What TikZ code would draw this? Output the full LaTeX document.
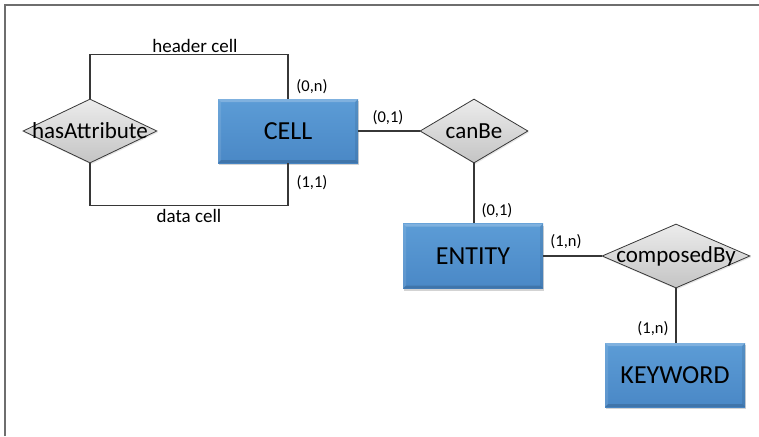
\documentclass[tikz,border=0pt]{standalone}
\usepackage{fontspec}
\setmainfont{Carlito}
\usetikzlibrary{shapes.geometric,shadows}

\definecolor{boxtop}{RGB}{92,156,214}
\definecolor{boxbot}{RGB}{74,136,198}
\definecolor{reltop}{RGB}{236,236,236}
\definecolor{relbot}{RGB}{196,196,196}
\definecolor{linecol}{RGB}{55,55,55}
\definecolor{framecol}{RGB}{110,110,110}

\tikzset{
  x=1pt, y=1pt,
  entitybox/.style={rectangle, minimum width=140pt, minimum height=64pt,
    inner sep=0pt, top color=boxtop, bottom color=boxbot, draw=none,
    drop shadow={opacity=0.35, shadow xshift=1pt, shadow yshift=-2pt},
    font=\fontsize{26}{26}\selectfont,
    path picture={
      \fill[white,opacity=0.22] (path picture bounding box.north west) -- (path picture bounding box.north east)
        -- ([xshift=-3pt,yshift=-3pt]path picture bounding box.north east)
        -- ([xshift=3pt,yshift=-3pt]path picture bounding box.north west) -- cycle;
      \fill[white,opacity=0.10] (path picture bounding box.north west) -- (path picture bounding box.south west)
        -- ([xshift=3pt,yshift=3pt]path picture bounding box.south west)
        -- ([xshift=3pt,yshift=-3pt]path picture bounding box.north west) -- cycle;
      \fill[black,opacity=0.14] (path picture bounding box.south west) -- (path picture bounding box.south east)
        -- ([xshift=-3pt,yshift=3pt]path picture bounding box.south east)
        -- ([xshift=3pt,yshift=3pt]path picture bounding box.south west) -- cycle;
      \fill[black,opacity=0.08] (path picture bounding box.north east) -- (path picture bounding box.south east)
        -- ([xshift=-3pt,yshift=3pt]path picture bounding box.south east)
        -- ([xshift=-3pt,yshift=-3pt]path picture bounding box.north east) -- cycle;
    }},
  relbox/.style={diamond, inner sep=0pt, draw=linecol, line width=0.8pt,
    top color=reltop, bottom color=relbot,
    drop shadow={opacity=0.2, shadow xshift=1pt, shadow yshift=-1.5pt}},
  reltext/.style={font=\fontsize{23}{23}\selectfont},
  conn/.style={draw=linecol, line width=1.4pt},
  role/.style={font=\fontsize{19}{19}\selectfont, inner sep=1pt},
  card/.style={font=\fontsize{16.5}{16.5}\selectfont, inner sep=0pt},
}

\begin{document}
\begin{tikzpicture}
\useasboundingbox (0,0) rectangle (759,-436);

% page frame (top and left edges)
\draw[framecol, line width=1.3pt] (5,-436) -- (5,-5) -- (759,-5);

% entities
\node[entitybox] (cell) at (288,-131) {CELL};
\node[entitybox, minimum height=65pt] (entity) at (473,-256) {ENTITY};
\node[entitybox] (keyword) at (675,-375) {KEYWORD};

% relationships
\node[relbox, minimum width=134pt, minimum height=64pt,
      label={[reltext]center:hasAttribute}] (hasattr) at (90,-131) {};
\node[relbox, minimum width=108pt, minimum height=64pt,
      label={[reltext]center:canBe}] (canbe) at (474,-131) {};
\node[relbox, minimum width=148pt, minimum height=64pt,
      label={[reltext]center:composedBy}] (composed) at (676,-256) {};

% connectors
\draw[conn] (hasattr.north) -- ++(0,44)
  -| node[role, pos=0.25, above, xshift=6pt] {header cell} (cell.north);
\draw[conn] (hasattr.south) -- ++(0,-42)
  -| node[role, pos=0.25, below, yshift=-2pt] {data cell} (cell.south);
\draw[conn] (cell.east) -- (canbe.west);
\draw[conn] (canbe.south) -- (canbe.south |- entity.north);
\draw[conn] (entity.east) -- (composed.west);
\draw[conn] (composed.south) -- (composed.south |- keyword.north);

% cardinalities
\node[card] (c1) at (312,-87) {(0,n)};
\node[card] (c2) at (312,-183) {(1,1)};
\node[card] (c3) at (388,-118) {(0,1)};
\node[card] (c4) at (497,-211) {(0,1)};
\node[card] (c5) at (566,-242) {(1,n)};
\node[card] (c6) at (653,-329) {(1,n)};
\end{tikzpicture}
\end{document}
